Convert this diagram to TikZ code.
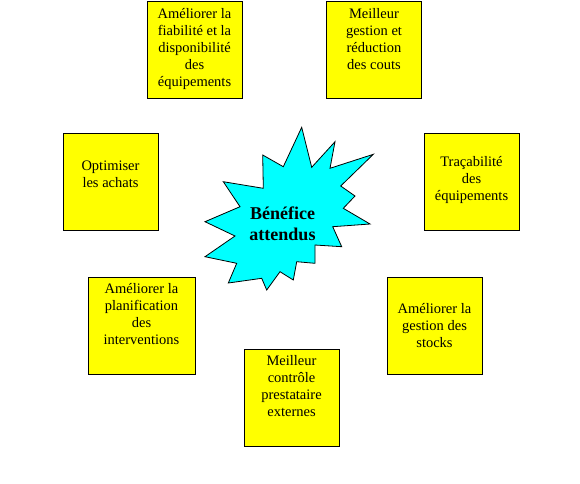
\documentclass[tikz,border=0pt]{standalone}
\usepackage{fontspec}
\setmainfont{Liberation Serif}
\definecolor{boxyellow}{RGB}{255,255,0}
\definecolor{burstcyan}{RGB}{0,255,255}
\tikzset{
  box/.style={draw=black,fill=boxyellow,line width=0.8pt,minimum width=95pt,minimum height=97pt,inner sep=0pt},
  txt/.style={align=center,font=\fontsize{14.5}{17}\selectfont,inner sep=0pt},
  burst/.style={draw=black,fill=burstcyan,line width=0.8pt,line join=miter}
}
\begin{document}
\begin{tikzpicture}[x=1pt,y=-1pt]
\fill[white] (0,0) rectangle (580,483);
\useasboundingbox (0,0) rectangle (580,483);
% boxes
\node[box] (fiab) at (194.5,49.5) {};
\node[box] (couts) at (374,49.5) {};
\node[box] (achats) at (110.5,182) {};
\node[box] (trac) at (471.5,182) {};
\node[box,minimum width=107pt] (planif) at (141.5,326) {};
\node[box] (stocks) at (434.5,326) {};
\node[box] (presta) at (291.5,398) {};
% texts
\node[txt,anchor=north] at ([yshift=-8]fiab.north) {Améliorer la\\fiabilité et la\\disponibilité\\des\\équipements};
\node[txt,anchor=north] at ([yshift=-8]couts.north) {Meilleur\\gestion et\\réduction\\des couts};
\node[txt] at ([yshift=8]achats.center) {Optimiser\\les achats};
\node[txt] at ([yshift=2]trac.center) {Traçabilité\\des\\équipements};
\node[txt,anchor=north] at ([yshift=-6]planif.north) {Améliorer la\\planification\\des\\interventions};
\node[txt] at (stocks.center) {Améliorer la\\gestion des\\stocks};
\node[txt,anchor=north] at ([yshift=-6]presta.north) {Meilleur\\contrôle\\prestataire\\externes};
% star
\draw[burst] (301.7,127.3) -- (311.7,167.3) -- (335,141.7) -- (330,168.3)
  -- (373.3,154.3) -- (340.7,186) -- (355,196) -- (343.3,208.3)
  -- (370,224) -- (332.7,226.7) -- (341.7,246.7) -- (315,245)
  -- (315,263.3) -- (296.7,261.7) -- (293.3,280) -- (280,271.7)
  -- (266.7,290) -- (261.7,278.3) -- (228.3,283) -- (236.7,263.3)
  -- (205,256.7) -- (235,236) -- (205,221.7) -- (240,206.7)
  -- (223.3,181.7) -- (263.3,188.3) -- (262.7,155) -- (283.3,166.7) -- cycle;
\node[align=center,inner sep=0pt,font=\fontsize{18}{21}\selectfont\bfseries] (benef) at (282.5,224) {Bénéfice\\attendus};
\end{tikzpicture}
\end{document}
